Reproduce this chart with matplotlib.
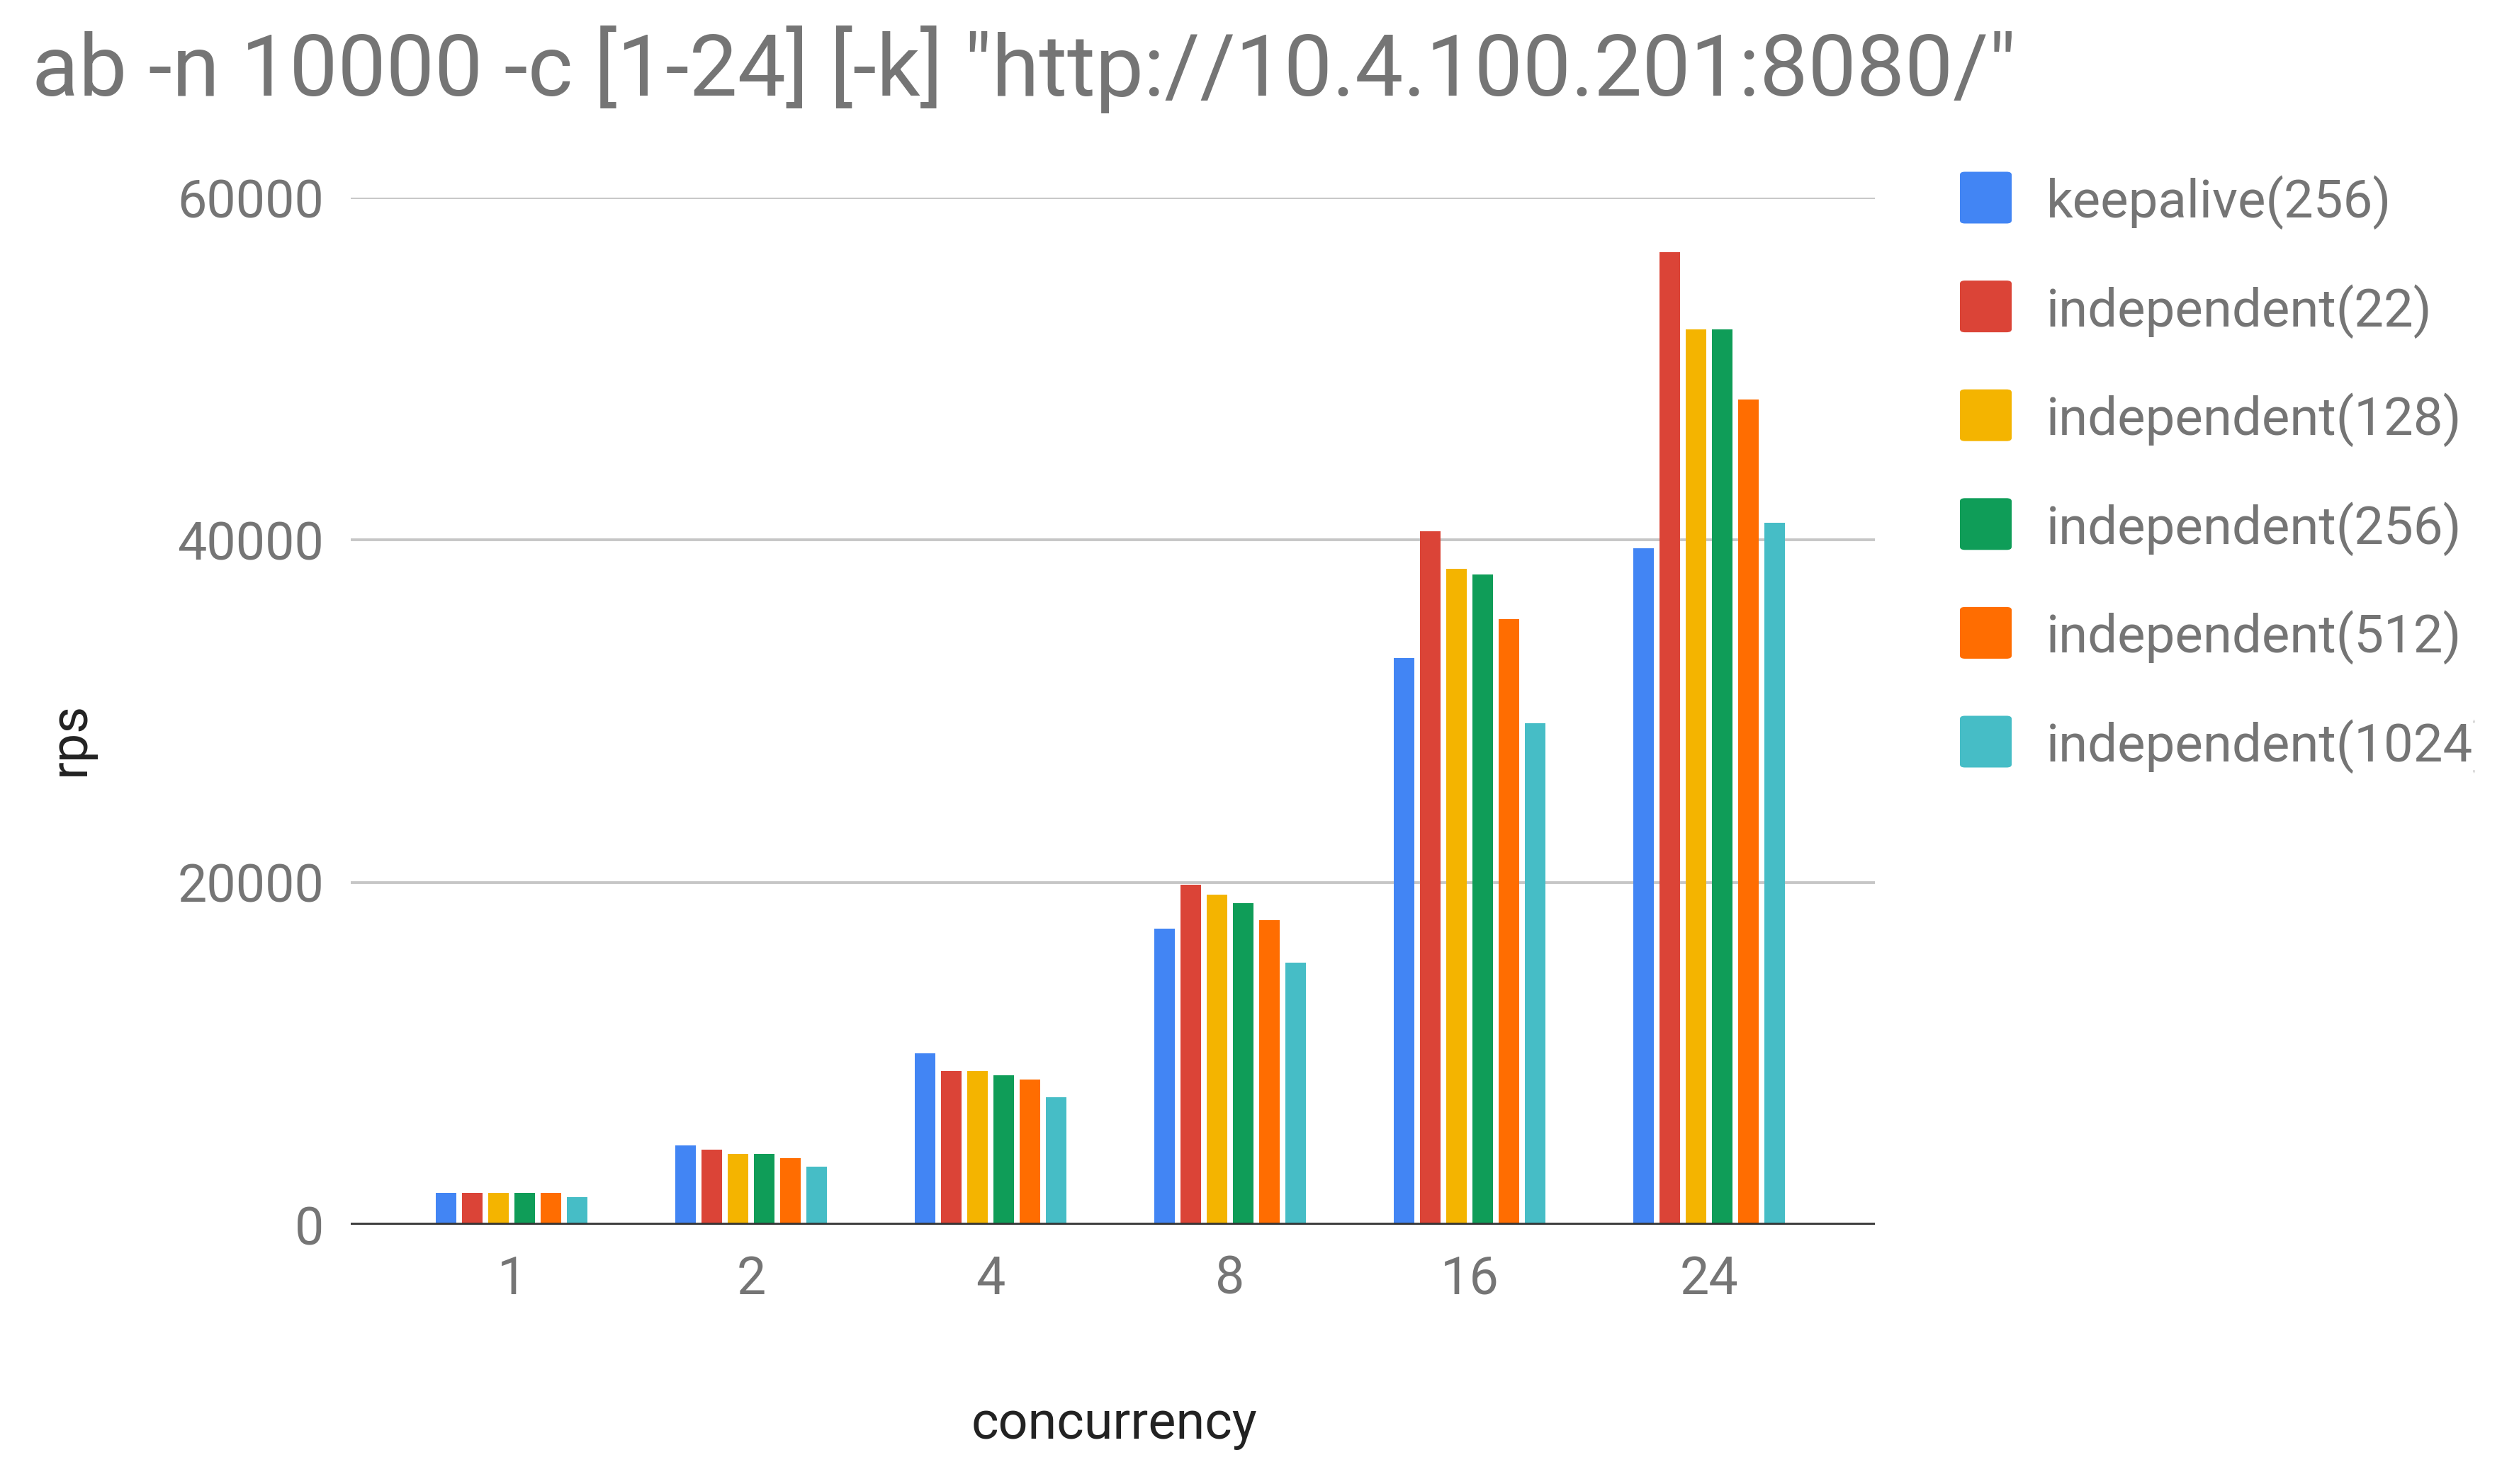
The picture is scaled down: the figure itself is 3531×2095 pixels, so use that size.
import matplotlib
matplotlib.use("Agg")
import matplotlib.pyplot as plt
from matplotlib.patches import FancyBboxPatch
from matplotlib.transforms import Bbox
import numpy as np

# ---- data ----
categories = ["1", "2", "4", "8", "16", "24"]
series_names = ["keepalive(256)", "independent(22)", "independent(128)",
                "independent(256)", "independent(512)", "independent(1024)"]
keepalive_256 = [1850, 4650, 10000, 17300, 33100, 39500]
independent_22 = [1850, 4400, 9000, 19850, 40500, 56800]
independent_128 = [1850, 4150, 9000, 19300, 38300, 52300]
independent_256 = [1850, 4150, 8750, 18800, 38000, 52300]
independent_512 = [1850, 3900, 8500, 17800, 35400, 48200]
independent_1024 = [1600, 3400, 7450, 15300, 29300, 41000]
y_ticks = [0, 20000, 40000, 60000]
colors = ["#4285F4", "#DB4437", "#F4B400", "#0F9D58", "#FF6D01", "#46BDC6"]

series = [keepalive_256, independent_22, independent_128,
          independent_256, independent_512, independent_1024]

W, H = 3531, 2095
DPI = 100
plt.rcParams['font.family'] = ['Roboto', 'DejaVu Sans']

fig = plt.figure(figsize=(W / DPI, H / DPI), dpi=DPI, facecolor="white")

def fx(px):
    return px / W

def fy(py):
    return 1 - py / H

ax_left, ax_right, ax_top, ax_bottom = 495, 2646, 279, 1729
ax = fig.add_axes([fx(ax_left), fy(ax_bottom), (ax_right - ax_left) / W,
                   (ax_bottom - ax_top) / H])

x = np.arange(len(categories))
pitch = 0.1095
width = 0.0858
n = len(series)
for j, (vals, c) in enumerate(zip(series, colors)):
    ax.bar(x + (j - (n - 1) / 2) * pitch, vals, width=width, color=c,
           zorder=3, linewidth=0)

ax.set_xlim(-0.672, 5.692)
ax.set_ylim(0, 60000)
ax.set_yticks(y_ticks)
ax.set_yticklabels([str(v) for v in y_ticks])
ax.set_xticks(x)
ax.set_xticklabels(categories)
ax.yaxis.grid(True, color="#c6c6c6", linewidth=2.8, zorder=0)
ax.xaxis.grid(False)
ax.axhline(0, color="#333333", linewidth=4.0, zorder=4)
for s in ax.spines.values():
    s.set_visible(False)
ax.tick_params(axis="both", length=0, labelsize=53, labelcolor="#757575")
ax.tick_params(axis="y", pad=27)
ax.tick_params(axis="x", pad=30)

# title
fig.text(fx(45), fy(135), 'ab -n 10000 -c [1-24] [-k] "http://10.4.100.201:8080/"',
         fontsize=87.4, color="#757575", ha="left", va="baseline")

# axis titles
fig.text(fx(1572), fy(2031), "concurrency", fontsize=53, color="#222222",
         ha="center", va="baseline")
fig.text(fx(98), fy(1043), "rps", fontsize=53, color="#222222",
         ha="center", va="center", rotation=90)

# legend
row0 = 279
row_step = 153.6
sq = 73
clip = Bbox.from_extents(0, 0, 3492, H)
for j, (name, c) in enumerate(zip(series_names, colors)):
    cy = row0 + j * row_step
    p = FancyBboxPatch((fx(2766), fy(cy + sq / 2)), sq / W, sq / H,
                       boxstyle="round,pad=0,rounding_size=0.002",
                       transform=fig.transFigure, facecolor=c, edgecolor="none")
    fig.patches.append(p)
    t = fig.text(fx(2888), fy(cy + 28), name, fontsize=53.6, color="#757575",
                 ha="left", va="baseline")
    t.set_clip_box(clip)
    t.set_clip_on(True)

fig.savefig("out.png", dpi=DPI, facecolor="white")
